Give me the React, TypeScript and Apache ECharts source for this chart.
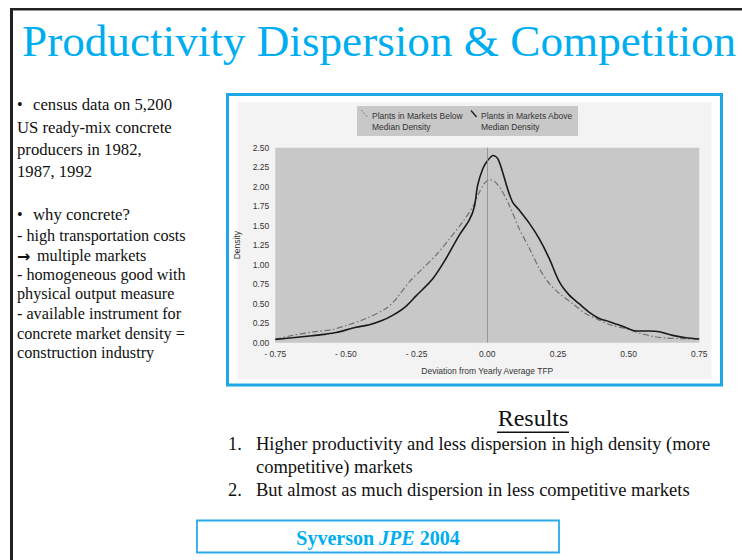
import React, { useEffect, useRef } from "react";
import * as echarts from "echarts";

const titleText = "Productivity Dispersion & Competition";
const seriesNames = ["Plants in Markets Below\nMedian Density", "Plants in Markets Above\nMedian Density"];
const xTicks = [-0.75, -0.5, -0.25, 0, 0.25, 0.5, 0.75];
const xAxisTitle = "Deviation from Yearly Average TFP";
const yAxisTitle = "Density";

const aboveDeviation = [-0.75, -0.69, -0.62, -0.57, -0.535, -0.465, -0.417, -0.375, -0.335, -0.29, -0.252, -0.193, -0.146, -0.099, -0.064, -0.046, -0.034, -0.016, 0.0, 0.021, 0.037, 0.054, 0.072, 0.09, 0.113, 0.149, 0.184, 0.219, 0.255, 0.29, 0.325, 0.361, 0.396, 0.432, 0.479, 0.526, 0.573, 0.609, 0.656, 0.703, 0.75];
const aboveDensity = [0.043, 0.064, 0.09, 0.11, 0.13, 0.197, 0.23, 0.28, 0.35, 0.46, 0.6, 0.82, 1.08, 1.38, 1.57, 1.74, 2.02, 2.23, 2.33, 2.4, 2.36, 2.19, 1.97, 1.8, 1.7, 1.53, 1.33, 1.08, 0.78, 0.61, 0.5, 0.39, 0.31, 0.27, 0.21, 0.15, 0.15, 0.14, 0.094, 0.064, 0.047];

const belowDeviation = [-0.75, -0.689, -0.618, -0.547, -0.5, -0.429, -0.358, -0.323, -0.276, -0.229, -0.182, -0.134, -0.087, -0.052, -0.028, -0.011, 0.007, 0.025, 0.048, 0.078, 0.113, 0.149, 0.184, 0.219, 0.255, 0.302, 0.349, 0.396, 0.443, 0.491, 0.538, 0.585, 0.632, 0.691, 0.75];
const belowDensity = [0.043, 0.094, 0.137, 0.17, 0.22, 0.31, 0.44, 0.56, 0.78, 0.95, 1.12, 1.33, 1.55, 1.74, 1.93, 2.04, 2.09, 2.07, 1.97, 1.76, 1.46, 1.21, 0.95, 0.76, 0.63, 0.5, 0.37, 0.29, 0.22, 0.18, 0.124, 0.081, 0.06, 0.051, 0.047];

const bulletGroup1 = ["census data on 5,200", "US ready-mix concrete", "producers in 1982,", "1987, 1992"];
const bulletGroup2Head = "why concrete?";
const bulletGroup2 = ["- high transportation costs", "multiple markets", "- homogeneous good with", "physical output measure", "- available instrument for", "concrete market density =", "construction industry"];
const resultsTitle = "Results";
const resultsItems = ["Higher productivity and less dispersion in high density (more", "competitive) markets", "But almost as much dispersion in less competitive markets"];
const citation = ["Syverson ", "JPE", " 2004"];

const SERIF = "Liberation Serif";
const SANS = "Liberation Sans";
const BLUE = "#00aeef";

function zip(xs: number[], ys: number[]) {
  return xs.map((x, i) => [x, ys[i]]);
}

export default function App() {
  const ref = useRef<HTMLDivElement>(null);
  useEffect(() => {
    if (!ref.current) return;
    const chart = echarts.init(ref.current, null, { renderer: "svg" });
    const t = (x: number, y: number, text: string, size: number, extra: any = {}) => ({
      type: "text",
      x,
      y,
      z: 5,
      style: { text, fontFamily: SERIF, fontSize: size, fill: "#111", verticalAlign: "middle", ...extra },
    });
    const leftY1 = [104, 127, 149, 171];
    const leftY2 = [236, 256, 275, 294, 314, 334, 353];
    const graphic: any[] = [
      // slide frame
      { type: "rect", shape: { x: 10, y: 8, width: 732, height: 2.5 }, style: { fill: "#222" }, z: 1 },
      { type: "rect", shape: { x: 10, y: 8, width: 3, height: 552 }, style: { fill: "#222" }, z: 1 },
      // title
      t(22, 41, titleText, 45.2, { fill: BLUE }),
      // left bullets
      t(17, leftY1[0], "•", 16),
      t(33, leftY1[0], bulletGroup1[0], 16.7),
      ...bulletGroup1.slice(1).map((s, i) => t(17, leftY1[i + 1], s, 16.7)),
      t(17, 214, "•", 16),
      t(33, 214, bulletGroup2Head, 16.7),
      ...bulletGroup2.map((s, i) =>
        i === 1 ? t(37, leftY2[i], s, 16.2) : t(17, leftY2[i], s, 16.2)
      ),
      t(17, leftY2[1], "→", 16, { fontFamily: "DejaVu Sans", fontWeight: "bold" }),
      // results
      t(533, 418, resultsTitle, 24, { align: "center" }),
      { type: "rect", shape: { x: 497, y: 431.5, width: 72, height: 1.4 }, style: { fill: "#111" }, z: 5 },
      t(228, 444, "1.", 18.5),
      t(256, 444, resultsItems[0], 18.5),
      t(256, 467, resultsItems[1], 18.5),
      t(228, 490, "2.", 18.5),
      t(256, 490, resultsItems[2], 18.5),
      // citation box
      { type: "rect", shape: { x: 197, y: 520.5, width: 362, height: 32 }, style: { fill: "none", stroke: "#2aaae6", lineWidth: 1.8 }, z: 5 },
      {
        type: "text",
        x: 378,
        y: 538,
        z: 6,
        style: {
          text: `{a|${citation[0]}}{b|${citation[1]}}{a|${citation[2]}}`,
          align: "center",
          verticalAlign: "middle",
          rich: {
            a: { fontFamily: SERIF, fontSize: 20, fontWeight: "bold", fill: BLUE },
            b: { fontFamily: SERIF, fontSize: 20, fontWeight: "bold", fontStyle: "italic", fill: BLUE },
          },
        },
      },
      // chart frame
      { type: "rect", shape: { x: 237.5, y: 102, width: 474, height: 277 }, style: { fill: "#f3f3f3" }, z: -2 },
      { type: "rect", shape: { x: 227.5, y: 94.5, width: 494, height: 290.5 }, style: { fill: "none", stroke: "#1fa8e8", lineWidth: 3 }, z: 5 },
      // legend
      { type: "rect", shape: { x: 357, y: 106, width: 221, height: 30 }, style: { fill: "#c8c8c8" }, z: 3 },
      { type: "line", shape: { x1: 361, y1: 110, x2: 367.5, y2: 117 }, style: { stroke: "#777", lineWidth: 1, lineDash: [2, 1.5] }, z: 4 },
      { type: "line", shape: { x1: 471, y1: 110.5, x2: 476.5, y2: 117 }, style: { stroke: "#222", lineWidth: 1.4 }, z: 4 },
      {
        type: "text", x: 372, y: 121.5, z: 4,
        style: { text: seriesNames[0], fontFamily: SANS, fontSize: 8.5, fill: "#333", verticalAlign: "middle", lineHeight: 11.5 },
      },
      {
        type: "text", x: 481, y: 121.5, z: 4,
        style: { text: seriesNames[1], fontFamily: SANS, fontSize: 8.5, fill: "#333", verticalAlign: "middle", lineHeight: 11.5 },
      },
    ];

    chart.setOption({
      animation: false,
      backgroundColor: "#ffffff",
      grid: {
        left: 275.3,
        top: 147.7,
        width: 424,
        height: 195,
        show: true,
        backgroundColor: "#c8c8c8",
        borderWidth: 0,
      },
      xAxis: {
        type: "value",
        min: -0.75,
        max: 0.75,
        interval: 0.25,
        axisLine: { show: false },
        axisTick: { show: false },
        splitLine: { show: false },
        axisLabel: {
          fontFamily: SANS,
          fontSize: 8.5,
          color: "#333",
          margin: 7,
          formatter: (v: number) => {
            const r = Math.round(v * 100) / 100;
            if (!xTicks.includes(r)) return "";
            return r < 0 ? "- " + Math.abs(r).toFixed(2) : r.toFixed(2);
          },
        },
        name: xAxisTitle,
        nameLocation: "middle",
        nameGap: 24,
        nameTextStyle: { fontFamily: SANS, fontSize: 8.5, color: "#333" },
      },
      yAxis: {
        type: "value",
        min: 0,
        max: 2.5,
        interval: 0.25,
        axisLine: { show: false },
        axisTick: { show: false },
        splitLine: { show: false },
        axisLabel: {
          fontFamily: SANS,
          fontSize: 8.5,
          color: "#333",
          margin: 6,
          formatter: (v: number) => v.toFixed(2),
        },
        name: yAxisTitle,
        nameLocation: "middle",
        nameGap: 28,
        nameRotate: 90,
        nameTextStyle: { fontFamily: SANS, fontSize: 8.5, color: "#333" },
      },
      series: [
        {
          name: seriesNames[0],
          type: "line",
          data: zip(belowDeviation, belowDensity),
          smooth: 0.3,
          showSymbol: false,
          lineStyle: { color: "#707070", width: 1.2, type: [6, 2.5, 1.5, 2.5] },
          z: 3,
          markLine: {
            silent: true,
            symbol: "none",
            label: { show: false },
            lineStyle: { color: "#8a8a8a", width: 0.8, type: "solid" },
            data: [{ xAxis: 0 }],
          },
        },
        {
          name: seriesNames[1],
          type: "line",
          data: zip(aboveDeviation, aboveDensity),
          smooth: 0.3,
          showSymbol: false,
          lineStyle: { color: "#1a1a1a", width: 1.6 },
          z: 4,
        },
      ],
      graphic,
    });
    return () => chart.dispose();
  }, []);
  return (
    <div
      ref={ref}
      style={{ position: "fixed", left: 0, top: 0, width: 742, height: 560, background: "#fff" }}
    />
  );
}
